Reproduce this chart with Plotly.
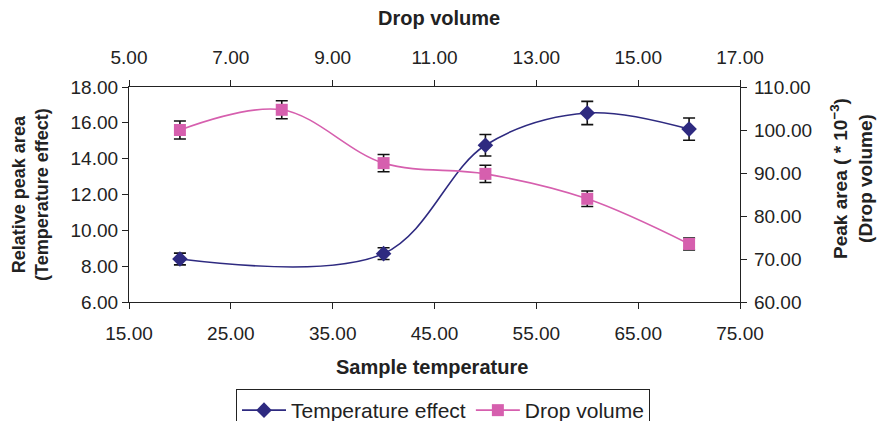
import plotly.graph_objects as go

# Data
temp_x = [20, 40, 50, 60, 70]
temp_y = [8.4, 8.7, 14.75, 16.55, 15.65]
temp_err = [0.33, 0.33, 0.6, 0.65, 0.62]

drop_x = [6, 8, 10, 12, 14, 16]
drop_y = [100.0, 104.7, 92.3, 89.8, 84.0, 73.5]
drop_err = [2.1, 2.1, 2.0, 2.0, 1.8, 1.4]

navy = "#2E2A80"
pink = "#D65FAE"
ink = "#222222"
font = "Liberation Sans, Arial, sans-serif"
FS = 19

fig = go.Figure()
fig.add_trace(go.Scatter(
    x=temp_x, y=temp_y, name="Temperature effect", mode="lines+markers",
    line=dict(color=navy, width=1.6, shape="spline", smoothing=1.0),
    marker=dict(symbol="diamond", size=12, color=navy),
    error_y=dict(type="data", array=temp_err, color="#111111", thickness=1.6, width=6),
    xaxis="x", yaxis="y",
))
fig.add_trace(go.Scatter(
    x=drop_x, y=drop_y, name="Drop volume", mode="lines+markers",
    line=dict(color=pink, width=1.6, shape="spline", smoothing=1.0),
    marker=dict(symbol="square", size=12, color=pink),
    error_y=dict(type="data", array=drop_err, color="#111111", thickness=1.6, width=6),
    xaxis="x2", yaxis="y2",
))

axis_common = dict(
    showline=True, linecolor=ink, linewidth=1.3,
    ticks="outside", ticklen=6, tickcolor=ink, tickwidth=1.3,
    showgrid=False, zeroline=False, tickformat=".2f", automargin=False,
    tickfont=dict(family=font, size=FS, color=ink),
)

L, R, T, B = 129, 137, 87, 119
W, H = 877, 421
pw, ph = W - L - R, H - T - B

def px_x(p):
    return (p - L) / pw

def px_y(p):
    return (H - B - p) / ph

annotations = [
    dict(text="<b>Drop volume</b>", x=px_x(439), y=px_y(18), size=20),
    dict(text="<b>Sample temperature</b>", x=px_x(432), y=px_y(367), size=20),
    dict(text="<b>Relative peak area<br>(Temperature effect)</b>", x=px_x(30), y=px_y(195),
         textangle=-90, size=18),
    dict(text="<b>Peak area ( * 10<sup>−3</sup>)<br>(Drop volume)</b>", x=px_x(851), y=px_y(179),
         textangle=-90, size=19),
]
for a in annotations:
    s = a.pop("size")
    a.update(xref="paper", yref="paper", showarrow=False,
             font=dict(family=font, size=s, color=ink),
             xanchor="center", yanchor="middle")

fig.update_layout(
    width=W, height=H,
    paper_bgcolor="white", plot_bgcolor="white",
    margin=dict(l=L, r=R, t=T, b=B),
    font=dict(family=font, color=ink),
    xaxis=dict(range=[15, 75], tick0=15, dtick=10, side="bottom", ticklabelstandoff=8,
               **axis_common),
    xaxis2=dict(range=[5, 17], tick0=5, dtick=2, side="top", overlaying="x", anchor="y",
                ticklabelstandoff=8, **axis_common),
    yaxis=dict(range=[6, 18], dtick=2, side="left", **axis_common),
    yaxis2=dict(range=[60, 110], dtick=10, side="right", overlaying="y", anchor="x",
                ticklabelstandoff=3, **axis_common),
    legend=dict(orientation="h", x=px_x(443), xanchor="center",
                yref="container", y=(H - 389) / H, yanchor="top",
                bordercolor=ink, borderwidth=1, bgcolor="white", itemwidth=44,
                font=dict(size=21, family=font, color=ink), tracegroupgap=0),
    annotations=annotations,
    showlegend=True,
)

fig.write_html("out.html")
